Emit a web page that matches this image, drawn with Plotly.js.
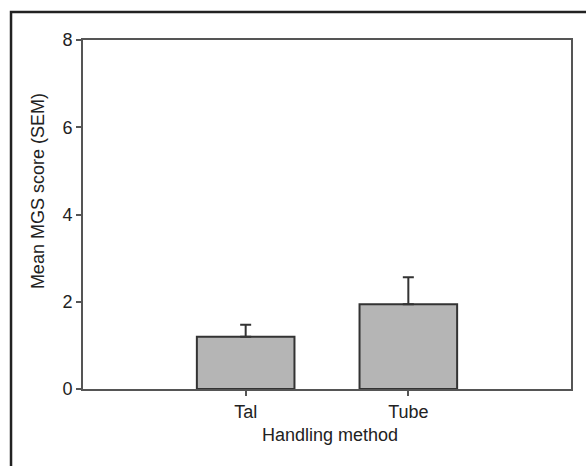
<!DOCTYPE html>
<html>
<head>
<meta charset="utf-8">
<script src="https://cdn.plot.ly/plotly-3.0.1.min.js"></script>
<style>
html,body{margin:0;padding:0;background:#fff;}
#chart{width:586px;height:466px;}
</style>
</head>
<body>
<div id="chart"></div>
<script>
const categories = ['Tal', 'Tube'];
const meanScores = [1.2, 1.94];
const semValues = [0.27, 0.62];
const yTickVals = [0, 2, 4, 6, 8];
const xTitle = 'Handling method';
const yTitle = 'Mean MGS score (SEM)';

const trace = {
  type: 'bar',
  x: categories,
  y: meanScores,
  width: 0.6,
  marker: {color: '#b5b5b5', line: {color: '#333333', width: 2}},
  error_y: {
    type: 'data',
    symmetric: false,
    array: semValues,
    arrayminus: [0, 0],
    color: '#333333',
    thickness: 2,
    width: 5.5
  },
  hoverinfo: 'none'
};

const font = {family: 'Liberation Sans, Arial, sans-serif', size: 18, color: '#222'};

const layout = {
  width: 586,
  height: 466,
  margin: {l: 83, r: 15, t: 40, b: 77},
  paper_bgcolor: '#fff',
  plot_bgcolor: '#fff',
  showlegend: false,
  font: font,
  xaxis: {
    type: 'category',
    range: [-1, 2],
    showline: true,
    linecolor: '#555',
    linewidth: 2,
    mirror: true,
    ticks: 'outside',
    ticklen: 5,
    tickwidth: 2,
    tickcolor: '#555',
    showgrid: false,
    zeroline: false,
    tickfont: font
  },
  yaxis: {
    range: [0, 8],
    tickvals: yTickVals,
    showline: true,
    linecolor: '#555',
    linewidth: 2,
    mirror: true,
    ticks: 'outside',
    ticklen: 5,
    tickwidth: 2,
    tickcolor: '#555',
    showgrid: false,
    zeroline: false,
    tickfont: font
  },
  annotations: [
    {
      text: xTitle, showarrow: false, font: font,
      xref: 'paper', yref: 'paper',
      x: 0.507, y: -0.132, xanchor: 'center', yanchor: 'middle'
    },
    {
      text: yTitle, showarrow: false, font: font, textangle: -90,
      xref: 'paper', yref: 'paper',
      x: -0.0922, y: 0.567, xanchor: 'center', yanchor: 'middle'
    }
  ],
  shapes: [{
    type: 'rect',
    xref: 'paper', yref: 'paper',
    x0: -0.1475, x1: 1.3,
    y0: -0.5, y1: 1.080,
    line: {color: '#222', width: 2.5},
    fillcolor: 'rgba(0,0,0,0)',
    layer: 'above'
  }]
};

Plotly.newPlot('chart', [trace], layout, {displayModeBar: false, staticPlot: true});
</script>
</body>
</html>
